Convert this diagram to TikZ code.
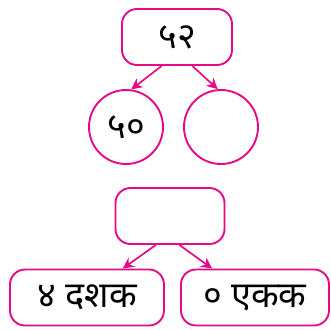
\documentclass[tikz,border=0pt]{standalone}
\usepackage{fontspec}
\newfontfamily\devfont[Script=Devanagari]{Noto Sans}
\usetikzlibrary{arrows.meta}
\definecolor{pinkline}{RGB}{230,10,135}
\tikzset{box/.style={draw=pinkline,line width=1.9pt,rounded corners=15pt,minimum height=56pt,inner sep=0pt,font=\devfont\fontsize{36}{40}\selectfont},
         ring/.style={draw=pinkline,line width=1.9pt,circle,minimum size=74pt,inner sep=0pt,font=\devfont\fontsize{36}{40}\selectfont},
         arr/.style={-{Stealth[length=11pt,width=11pt]},line width=1.7pt,pinkline}}

\begin{document}
\begin{tikzpicture}[x=1pt,y=-1pt]
  \useasboundingbox (0,0) rectangle (331,329);
  % number split into parts
  \node[box,minimum width=110pt] (whole) at (177,37) {५२};
  \node[ring] (tens) at (126,127) {५०};
  \node[ring] (ones) at (221,127) {};
  \draw[arr] (whole.-118) -- (tens.82);
  \draw[arr] (whole.-62) -- (ones.95);
  % place values
  \node[box,minimum width=109pt] (sum) at (170,216) {};
  \node[box,minimum width=154pt] (dec) at (87,297.5) {४ दशक};
  \node[box,minimum width=148pt] (unit) at (255,297.5) {० एकक};
  \draw[arr] (sum.-116) -- (dec.39);
  \draw[arr] (sum.-72) -- (unit.146);
\end{tikzpicture}
\end{document}
